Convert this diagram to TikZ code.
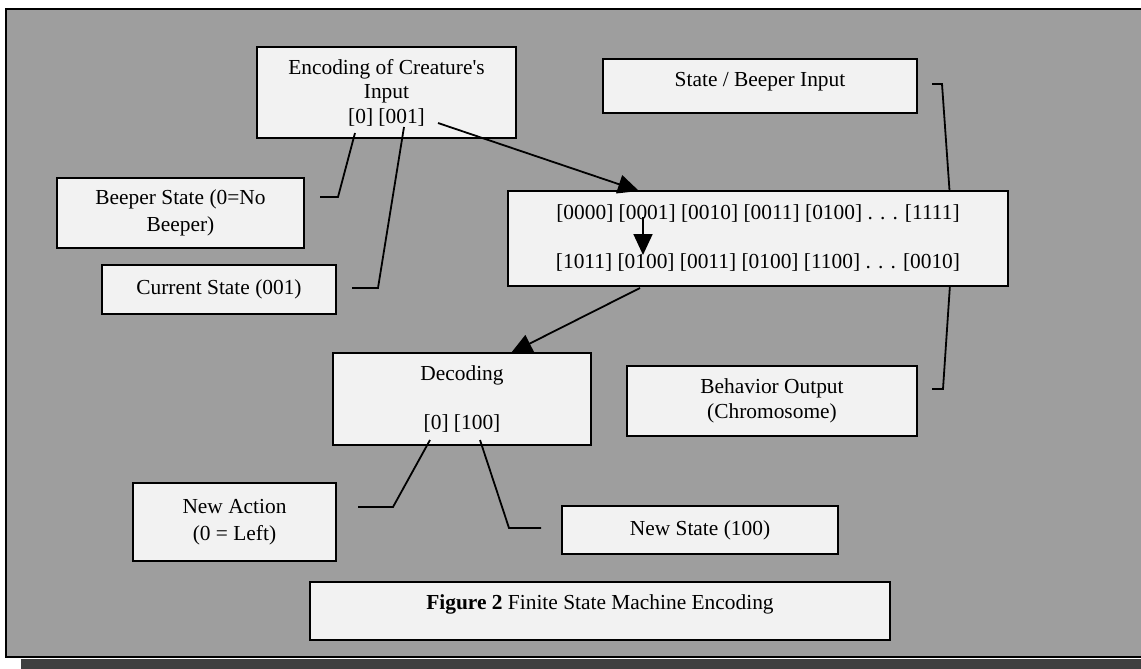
\documentclass[tikz,border=0pt]{standalone}
\usepackage{fontspec}
\setmainfont{Liberation Serif}
\usetikzlibrary{arrows.meta}
\definecolor{bggray}{gray}{0.62}
\definecolor{shadowgray}{gray}{0.25}
\definecolor{boxfill}{gray}{0.95}
\pgfdeclarelayer{bg}
\pgfsetlayers{bg,main}
\begin{document}
\begin{tikzpicture}[x=1pt,y=-1pt,
  box/.style={draw=black,line width=1.6pt,fill=boxfill,align=center,inner sep=0pt,
    font=\fontsize{21.4}{24.5}\selectfont},
  conn/.style={line width=1.8pt,draw=black},
  arr/.style={conn,-{Triangle[length=21pt,width=19pt]}}]
\useasboundingbox (0,0) rectangle (1141,669);
% boxes
\node[box,minimum width=259pt,minimum height=91pt] (enc) at (386.5,92.5)
  {Encoding of Creature\textquotesingle s\\Input\\{[0] [001]}};
\node[box,minimum width=314pt,minimum height=54pt,text height=15pt,text depth=15pt] (sb) at (760,86)
  {State / Beeper Input};
\node[box,minimum width=500pt,minimum height=95pt] (main) at (758,238.5)
  {{[0000] [0001] [0010] [0011] [0100] . . . [1111]}\\[24.5pt]{[1011] [0100] [0011] [0100] [1100] . . . [0010]}};
\node[box,minimum width=247pt,minimum height=70pt] (beep) at (180.5,213)
  {Beeper State (0=No\\[2.5pt]Beeper)};
\node[box,minimum width=234pt,minimum height=49pt] (cur) at (219,289.5)
  {Current State (001)};
\node[box,minimum width=258pt,minimum height=92pt] (dec) at (462,399)
  {Decoding\\[24.5pt]{[0] [100]}};
\node[box,minimum width=290pt,minimum height=70pt] (beh) at (772,401)
  {Behavior Output\\(Chromosome)};
\node[box,minimum width=203pt,minimum height=78pt] (nact) at (234.5,522)
  {New Action\\[2.5pt](0 = Left)};
\node[box,minimum width=276pt,minimum height=48pt] (nst) at (700,530)
  {New State (100)};
\node[box,minimum width=580pt,minimum height=58pt,text height=15pt,text depth=19pt] (fig) at (600,611)
  {\textbf{Figure 2} Finite State Machine Encoding};
% connector points
\coordinate (e0) at (355,133);
\coordinate (e1) at (338,197);
\coordinate (e2) at (320,197);
\coordinate (c0) at (404,127);
\coordinate (c1) at (378,288);
\coordinate (c2) at (352,288);
\coordinate (a0) at (438,123);
\coordinate (a1) at (639,191);
\coordinate (v0) at (643,217);
\coordinate (v1) at (643,255);
\coordinate (d0) at (640,288);
\coordinate (d1) at (511,353);
\coordinate (l0) at (430,440);
\coordinate (l1) at (393,507);
\coordinate (l2) at (358,507);
\coordinate (r0) at (480,440);
\coordinate (r1) at (509,528);
\coordinate (r2) at (541,528);
\coordinate (b0) at (932,84);
\coordinate (b1) at (942,84);
\coordinate (b2) at (953,240);
\coordinate (b3) at (943,389);
\coordinate (b4) at (932,389);
\begin{pgfonlayer}{bg}
  \fill[shadowgray] (21,659) rectangle (1160,680);
  \draw[line width=2pt,fill=bggray] (6,9) rectangle (1160,657);
  \draw[conn] (b0) -- (b1) -- (b2) -- (b3) -- (b4);
\end{pgfonlayer}
\draw[conn] (e0) -- (e1) -- (e2);
\draw[conn] (c0) -- (c1) -- (c2);
\draw[arr] (a0) -- (a1);
\draw[arr] (v0) -- (v1);
\draw[arr] (d0) -- (d1);
\draw[conn] (l0) -- (l1) -- (l2);
\draw[conn] (r0) -- (r1) -- (r2);
\end{tikzpicture}
\end{document}
